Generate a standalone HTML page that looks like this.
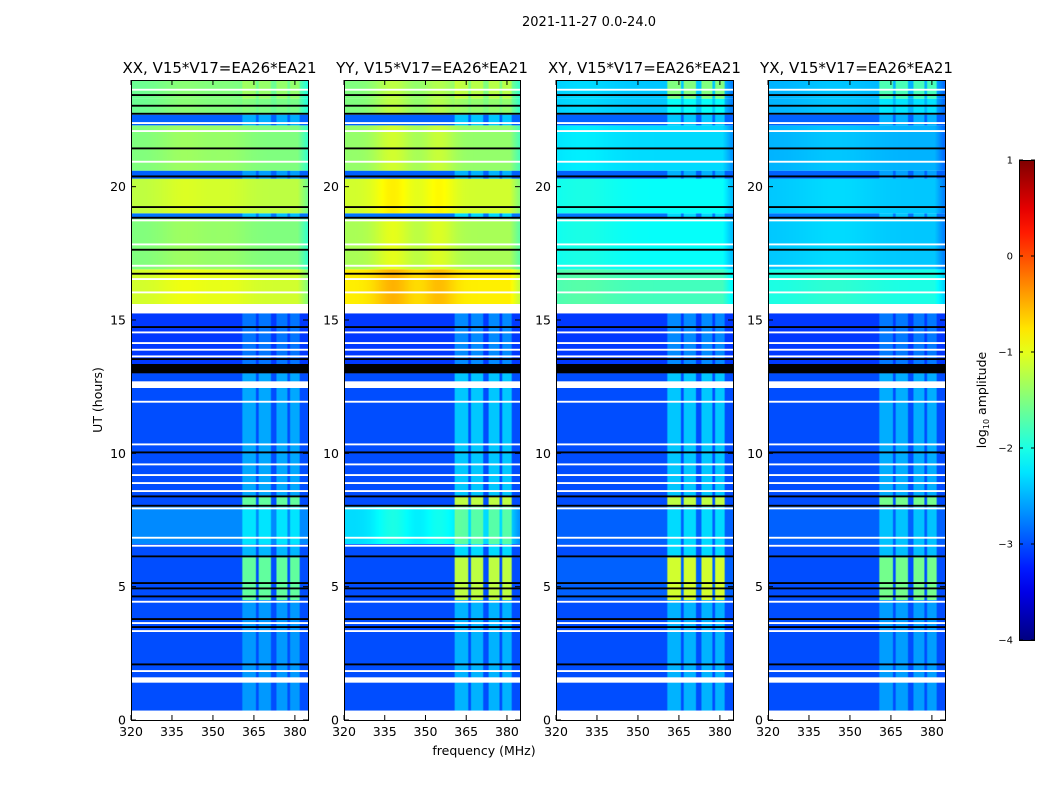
<!DOCTYPE html>
<html><head><meta charset="utf-8"><style>
body{margin:0;background:#fff;}
#wrap{position:relative;width:1050px;height:800px;font-family:"DejaVu Sans","Liberation Sans",sans-serif;}
svg{position:absolute;left:0;top:0;}
</style></head><body>
<div id="wrap">
<svg id="ov" width="1050" height="800"><defs id="defs"></defs><g id="heat"></g><g id="axes"></g></svg>
</div>
<script>
// ---- data ----
var panelTitles=["XX, V15*V17=EA26*EA21","YY, V15*V17=EA26*EA21","XY, V15*V17=EA26*EA21","YX, V15*V17=EA26*EA21"];
var xTicks=[320,335,350,365,380];
var yTicks=[0,5,10,15,20];
var cbTicks=[1,0,-1,-2,-3,-4];
// time segments: [t0, t1, XX, YY, XY, YX, rfiBoost]
var segments=[
[0.35,4.5,-3.0,-3.0,-3.0,-3.0,0.5],
[4.5,6.1,-3.0,-3.0,-2.9,-3.0,1.8],
[6.1,6.6,-3.0,-3.0,-3.0,-3.0,0.7],
[6.6,8.0,-2.7,-2.3,-2.9,-2.9,0.6],
[8.0,8.4,-3.0,-3.0,-3.0,-3.0,1.8],
[8.4,13.0,-3.0,-3.0,-3.0,-3.0,0.6],
[13.0,15.25,-3.1,-3.1,-3.1,-3.1,0.4],
[15.6,16.9,-1.1,-0.8,-1.8,-2.0,0],
[16.9,18.8,-1.5,-1.3,-2.1,-2.4,0],
[18.8,19.0,-2.8,-2.8,-2.8,-2.8,0.5],
[19.0,20.3,-1.2,-1.1,-2.1,-2.4,0],
[20.3,20.6,-2.9,-2.9,-2.9,-2.9,0.4],
[20.6,22.3,-1.5,-1.4,-2.3,-2.5,0],
[22.3,22.7,-2.9,-2.9,-2.9,-2.9,0.5],
[22.7,23.3,-1.6,-1.5,-2.4,-2.5,0.3],
[23.3,24.0,-1.6,-1.5,-2.4,-2.5,0.9]
];
var rfiLo=[361,367,373.5,378.5];
var rfiHi=[365.5,371,377,381.5];
var rfiScale=[0.75,1,1,0.8];
var bumps=[[[340,10,0.15],[356,8,0.1]],[[338,7,0.3],[355,6,0.25]],[[330,12,0.1]],[[345,15,0.1]]];
var whiteRows=[[0,0.35],[1.4,1.6],[1.8,1.87],[3.3,3.37],[3.6,3.67],[4.4,4.47],[6.5,6.57],[6.8,6.87],[7.9,7.97],[8.55,8.62],[8.85,8.92],[9.15,9.22],[9.55,9.62],[10.3,10.37],[11.9,11.97],[12.45,12.7],[13.6,13.67],[13.85,13.92],[14.1,14.17],[14.5,14.57],[15.25,15.6],[16.0,16.07],[16.5,16.57],[17.0,17.07],[17.8,17.87],[18.7,18.77],[20.9,20.97],[22.05,22.12],[22.35,22.42],[23.6,23.67]];
var blackRows=[[2.05,2.12],[3.45,3.52],[3.75,3.82],[4.6,4.67],[4.9,4.97],[5.1,5.17],[6.1,6.17],[8.0,8.07],[8.35,8.42],[10.0,10.07],[13.0,13.35],[13.5,13.57],[14.7,14.77],[16.7,16.77],[17.6,17.67],[18.8,18.87],[19.2,19.27],[20.35,20.42],[21.4,21.47],[22.7,22.77],[23.0,23.07],[23.4,23.47]];

// ---- scales ----
var fMin=320,fMax=384.8,tMin=0,tMax=24,vMin=-4,vMax=1;
var panelX=[131,344,556,768],panelW=[177,176,177,177],topY=80,plotH=640;
function xs(p,f){return panelX[p]+(f-fMin)/(fMax-fMin)*panelW[p];}
function ys(t){return topY+plotH-(t-tMin)/(tMax-tMin)*plotH;}
function cl(x){return Math.max(0,Math.min(1,x));}
function jet(v){var x=cl((v-vMin)/(vMax-vMin));return 'rgb('+Math.round(cl(1.5-Math.abs(4*x-3))*255)+','+Math.round(cl(1.5-Math.abs(4*x-2))*255)+','+Math.round(cl(1.5-Math.abs(4*x-1))*255)+')';}
var NS='http://www.w3.org/2000/svg';
var defs=document.getElementById('defs'),heat=document.getElementById('heat'),axes=document.getElementById('axes');
function mk(par,tag,attrs,txt){var el=document.createElementNS(NS,tag);for(var k in attrs)el.setAttribute(k,attrs[k]);if(txt!==undefined)el.textContent=txt;par.appendChild(el);return el;}

// ---- axes & text ----
try{
var el=mk(axes,'text',{x:589,y:26,'font-size':13,'text-anchor':'middle'},'2021-11-27 0.0-24.0');


for(var p=0;p<4;p++){
  var x0=panelX[p],w=panelW[p];
  el=mk(axes,'rect',{x:x0+0.5,y:topY+0.5,width:w,height:plotH,fill:'none',stroke:'#000','stroke-width':1});
  
  
  el=mk(axes,'text',{x:x0+w/2,y:73,'font-size':15,'text-anchor':'middle'},panelTitles[p]);
  
  
  for(var i=0;i<xTicks.length;i++){var f=xTicks[i],x=xs(p,f);
    mk(axes,'line',{x1:x,x2:x,y1:topY+plotH,y2:topY+plotH-5,stroke:'#000'});
    mk(axes,'line',{x1:x,x2:x,y1:topY,y2:topY+5,stroke:'#000'});
    el=mk(axes,'text',{x:x,y:736,'font-size':12.5,'text-anchor':'middle'},String(f));
    
    }
  for(var j=0;j<yTicks.length;j++){var t=yTicks[j],y=ys(t);
    mk(axes,'line',{x1:x0,x2:x0+5,y1:y,y2:y,stroke:'#000'});
    mk(axes,'line',{x1:x0+w,x2:x0+w-5,y1:y,y2:y,stroke:'#000'});
    el=mk(axes,'text',{x:x0-5,y:y+4.5,'font-size':12.5,'text-anchor':'end'},String(t));
    
    }
}
el=mk(axes,'text',{x:484,y:755,'font-size':12.5,'text-anchor':'middle'},'frequency (MHz)');


el=mk(axes,'text',{x:0,y:0,'font-size':12.5,'text-anchor':'middle',transform:'translate(102,400) rotate(-90)'},'UT (hours)');


var cg=mk(defs,'linearGradient',{id:'cbg',x1:0,y1:0,x2:0,y2:1});
for(var s=0;s<=20;s++){mk(cg,'stop',{offset:s/20,'stop-color':jet(vMax-s/20*(vMax-vMin))});}
el=mk(axes,'rect',{x:1019.5,y:160.5,width:15,height:480,fill:'url(#cbg)',stroke:'#000'});


for(var c=0;c<cbTicks.length;c++){var v=cbTicks[c],yy=160+(vMax-v)/(vMax-vMin)*480;
  mk(axes,'line',{x1:1019,x2:1023,y1:yy,y2:yy,stroke:'#000'});
  mk(axes,'line',{x1:1035,x2:1031,y1:yy,y2:yy,stroke:'#000'});
  el=mk(axes,'text',{x:1013,y:yy+3.5,'font-size':10,'text-anchor':'end'},v<0?'\u2212'+(-v):String(v));
  
  }
el=mk(axes,'text',{x:0,y:0,'font-size':12.5,'text-anchor':'middle',transform:'translate(986,400) rotate(-90)'});
mk(el,'tspan',{},'log');
mk(el,'tspan',{'font-size':8,dy:3},'10');
mk(el,'tspan',{dy:-3},' amplitude');


}catch(err){}

// ---- heatmaps ----
try{
for(var p2=0;p2<4;p2++){
  for(var k=0;k<segments.length;k++){
    var seg=segments[k];
    var gid='g'+p2+'_'+k;
    var g=mk(defs,'linearGradient',{id:gid,x1:0,y1:0,x2:1,y2:0});
    for(var ff=fMin;ff<=fMax;ff+=0.5){
      var val=seg[2+p2];
      var base=val;
      if(base>-2.6){for(var b=0;b<bumps[p2].length;b++){var bb=bumps[p2][b];val+=bb[2]*Math.exp(-Math.pow((ff-bb[0])/bb[1],2));} if(ff>381)val-=0.4*(ff-381)/4;}
      for(var r=0;r<rfiLo.length;r++){if(ff>=rfiLo[r]&&ff<=rfiHi[r]){val+=seg[6]*rfiScale[p2]*(base>-2.2?0.3:1);}}
      mk(g,'stop',{offset:(ff-fMin)/(fMax-fMin),'stop-color':jet(val)});
    }
    var y1=ys(seg[1]),y0=ys(seg[0]);
    var rc=mk(heat,'rect',{x:panelX[p2],y:y1,width:panelW[p2],height:y0-y1,fill:'url(#'+gid+')'});
    
    
  }
  for(var a=0;a<whiteRows.length;a++){var wr=whiteRows[a],wy1=ys(wr[1]),wy0=ys(wr[0]);
    var rw=mk(heat,'rect',{x:panelX[p2],y:wy1,width:panelW[p2],height:Math.max(1.5,wy0-wy1),fill:'#fff'});
    
    }
  for(var a2=0;a2<blackRows.length;a2++){var br=blackRows[a2],by1=ys(br[1]),by0=ys(br[0]);
    var rb=mk(heat,'rect',{x:panelX[p2],y:by1,width:panelW[p2],height:Math.max(1.5,by0-by1),fill:'#000'});
    
    }
}
}catch(err){}
</script>
</body></html>
